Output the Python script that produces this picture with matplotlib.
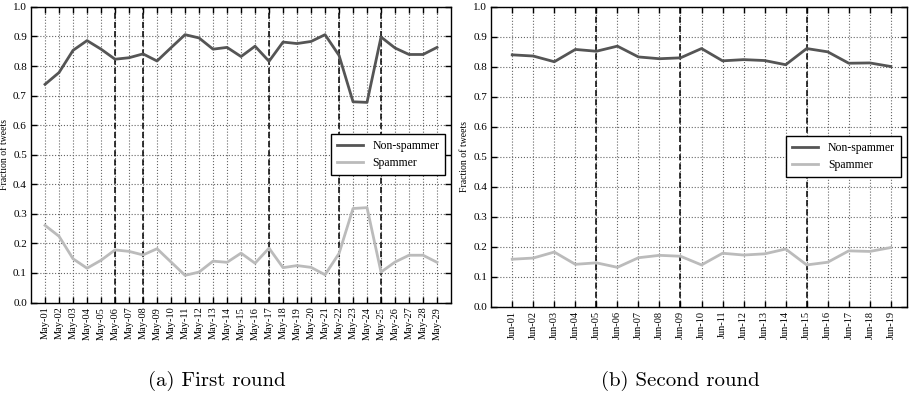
import numpy as np
import matplotlib
matplotlib.use('Agg')
import matplotlib.pyplot as plt

# first round (May)
may_labels = ['May-%02d' % d for d in range(1, 30)]
may_non_spammer = [0.738, 0.778, 0.853, 0.886, 0.857, 0.823, 0.828, 0.841, 0.817, 0.862,
                   0.906, 0.895, 0.857, 0.863, 0.832, 0.867, 0.816, 0.881, 0.876, 0.883,
                   0.906, 0.836, 0.679, 0.677, 0.898, 0.861, 0.839, 0.839, 0.863]
may_spammer = [0.261, 0.224, 0.148, 0.116, 0.143, 0.178, 0.173, 0.161, 0.182, 0.137,
               0.092, 0.103, 0.140, 0.136, 0.167, 0.133, 0.184, 0.118, 0.125, 0.119,
               0.094, 0.166, 0.318, 0.321, 0.103, 0.137, 0.160, 0.160, 0.136]
may_events = ['May-06', 'May-08', 'May-17', 'May-22', 'May-25']

# second round (June)
jun_labels = ['Jun-%02d' % d for d in range(1, 20)]
jun_non_spammer = [0.840, 0.836, 0.817, 0.858, 0.852, 0.869, 0.833, 0.827, 0.830, 0.861,
                   0.820, 0.824, 0.821, 0.807, 0.861, 0.850, 0.812, 0.813, 0.801]
jun_spammer = [0.158, 0.162, 0.182, 0.141, 0.146, 0.131, 0.163, 0.171, 0.168, 0.139,
               0.178, 0.172, 0.176, 0.192, 0.139, 0.148, 0.186, 0.184, 0.197]
jun_events = ['Jun-05', 'Jun-09', 'Jun-15']

plt.rcParams['font.family'] = ['Liberation Serif', 'DejaVu Serif']


def draw_panel(ax, labels, non_spam, spam, events, xmax):
    x = np.arange(1, len(labels) + 1)
    ax.plot(x, non_spam, color='#555555', lw=2, label='Non-spammer')
    ax.plot(x, spam, color='#bbbbbb', lw=2, label='Spammer')
    for ev in events:
        ax.axvline(labels.index(ev) + 1, color='black', lw=1.1, ls=(0, (4, 2)), zorder=1)
    ax.set_xlim(0, xmax)
    ax.set_ylim(0, 1.0)
    ax.set_xticks(x)
    ax.set_xticklabels(labels, rotation=90, fontsize=7.5)
    ax.set_yticks(np.arange(0, 1.01, 0.1))
    ax.set_yticklabels(['%.1f' % v for v in np.arange(0, 1.01, 0.1)], fontsize=8)
    ax.grid(True, color='#666666', ls=':', lw=0.8)
    ax.set_axisbelow(True)
    ax.tick_params(direction='in', top=True, right=True, length=4, width=1, pad=3)
    for s in ax.spines.values():
        s.set_linewidth(1)
    ax.set_ylabel('Fraction of tweets', fontsize=7, labelpad=3)
    leg = ax.legend(loc='center right', fontsize=8.5, fancybox=False, framealpha=1,
                    handlelength=2.2, borderpad=0.5, labelspacing=0.45)
    leg.get_frame().set_edgecolor('black')
    leg.get_frame().set_linewidth(1)


fig = plt.figure(figsize=(9.13, 4.05), dpi=100)
ax1 = fig.add_axes([0.034, 0.253, 0.460, 0.730])
ax2 = fig.add_axes([0.538, 0.243, 0.455, 0.740])

draw_panel(ax1, may_labels, may_non_spammer, may_spammer, may_events, 30)
draw_panel(ax2, jun_labels, jun_non_spammer, jun_spammer, jun_events, 19.75)

fig.text(0.237, 0.06, '(a) First round', ha='center', va='center', fontsize=15, family='cmr10')
fig.text(0.745, 0.06, '(b) Second round', ha='center', va='center', fontsize=15, family='cmr10')

fig.savefig('out.png', dpi=100)
